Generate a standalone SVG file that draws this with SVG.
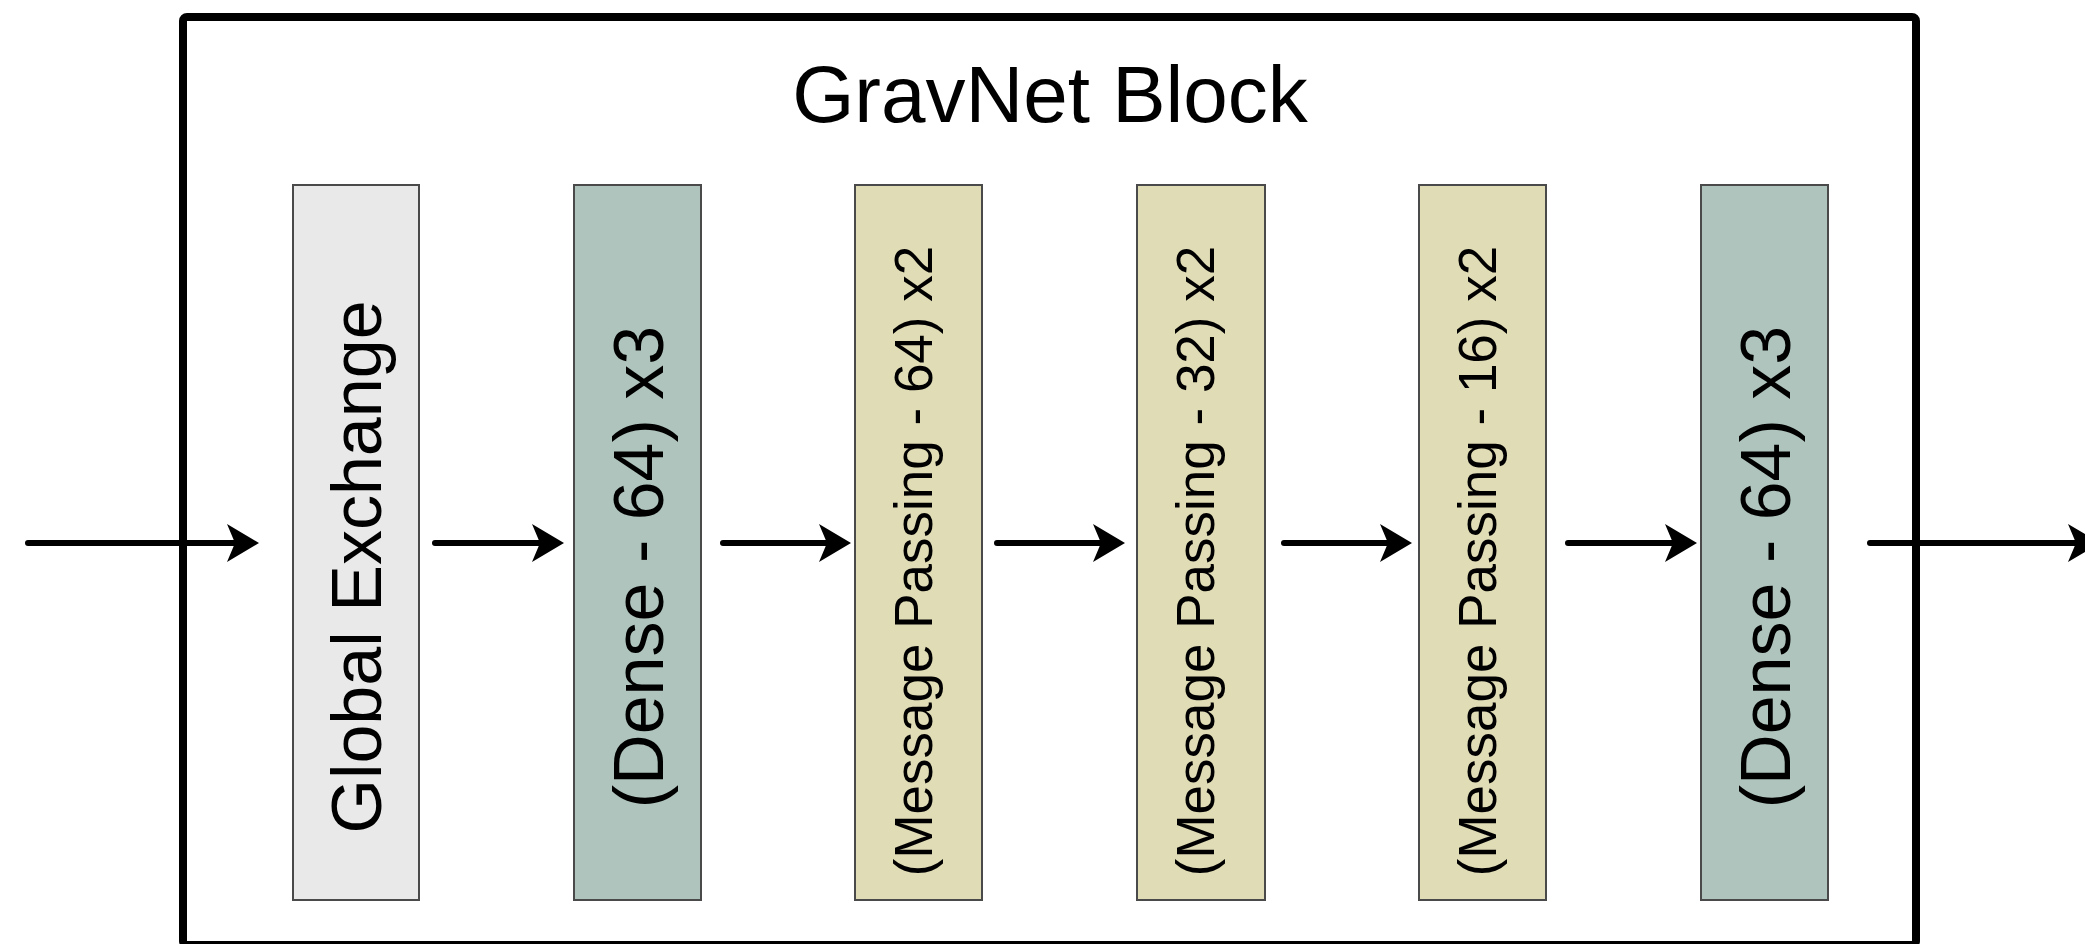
<svg xmlns="http://www.w3.org/2000/svg" width="2085" height="944" viewBox="0 0 2085 944">
  <defs>
    <!-- filled, slightly notched arrowhead; the line ends inside the head -->
    <marker id="arrowhead" markerUnits="userSpaceOnUse" markerWidth="36" markerHeight="40" refX="10" refY="19" orient="auto">
      <path d="M32,19 L0,0 L8,19 L0,38 Z" fill="#000"/>
    </marker>
    <style>
      .frame { fill: none; stroke: #000; stroke-width: 8; }
      .title { font-family: "Liberation Sans", Arial, sans-serif; font-size: 80px; fill: #000; }
      .layer { stroke: #4a4a4a; stroke-width: 2; }
      .global { fill: #e9e9e9; }
      .dense { fill: #afc4bd; }
      .mp { fill: #e0dcb6; }
      .lbl { font-family: "Liberation Sans", Arial, sans-serif; fill: #000; text-anchor: middle; }
      .big { font-size: 70px; }
      .small { font-size: 53px; }
      .flow { stroke: #000; stroke-width: 6; stroke-linecap: round; fill: none; marker-end: url(#arrowhead); }
    </style>
  </defs>

  <rect width="2085" height="944" fill="#ffffff"/>

  <!-- outer block frame and title -->
  <g id="gravnet-block">
    <rect class="frame" x="183" y="17" width="1733" height="928" rx="4"/>
    <text class="title" x="1050" y="122" text-anchor="middle">GravNet Block</text>
  </g>

  <!-- connectors (x2 = arrow tip - 22) -->
  <g id="connectors">
    <line class="flow" x1="28" y1="543" x2="237" y2="543"/>
    <line class="flow" x1="435" y1="543" x2="542" y2="543"/>
    <line class="flow" x1="723" y1="543" x2="829" y2="543"/>
    <line class="flow" x1="997" y1="543" x2="1103" y2="543"/>
    <line class="flow" x1="1284" y1="543" x2="1390" y2="543"/>
    <line class="flow" x1="1568" y1="543" x2="1675" y2="543"/>
    <line class="flow" x1="1870" y1="543" x2="2078" y2="543"/>
  </g>

  <!-- layers -->
  <g id="global-exchange">
    <rect class="layer global" x="293" y="185" width="126" height="715"/>
    <text class="lbl big" transform="translate(381,567) rotate(-90)">Global Exchange</text>
  </g>

  <g id="dense-in">
    <rect class="layer dense" x="574" y="185" width="127" height="715"/>
    <text class="lbl big" transform="translate(663,567) rotate(-90)">(Dense - 64) x3</text>
  </g>

  <g id="message-passing-64">
    <rect class="layer mp" x="855" y="185" width="127" height="715"/>
    <text class="lbl small" transform="translate(932,561) rotate(-90)">(Message Passing - 64) x2</text>
  </g>

  <g id="message-passing-32">
    <rect class="layer mp" x="1137" y="185" width="128" height="715"/>
    <text class="lbl small" transform="translate(1214,561) rotate(-90)">(Message Passing - 32) x2</text>
  </g>

  <g id="message-passing-16">
    <rect class="layer mp" x="1419" y="185" width="127" height="715"/>
    <text class="lbl small" transform="translate(1496,561) rotate(-90)">(Message Passing - 16) x2</text>
  </g>

  <g id="dense-out">
    <rect class="layer dense" x="1701" y="185" width="127" height="715"/>
    <text class="lbl big" transform="translate(1790,567) rotate(-90)">(Dense - 64) x3</text>
  </g>
</svg>
